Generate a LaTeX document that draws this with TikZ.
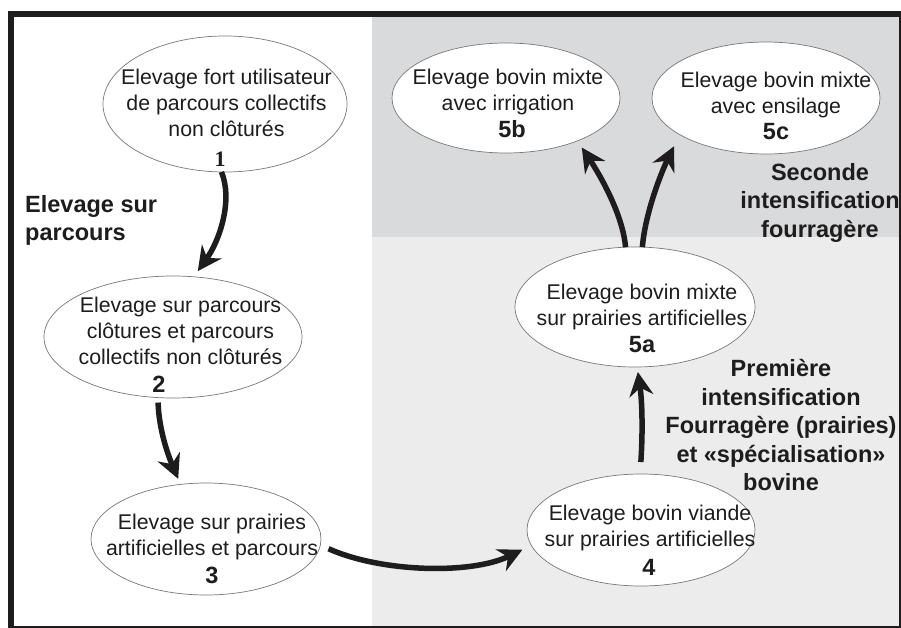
\documentclass[tikz,border=0pt]{standalone}
\usepackage{fontspec}
\setmainfont{Liberation Sans}
\newfontfamily\serifnum{Liberation Serif}
\usetikzlibrary{shapes.geometric,arrows.meta}

\definecolor{ink}{RGB}{30,28,29}
\definecolor{ellgray}{RGB}{120,120,120}
\definecolor{zonedark}{RGB}{217,218,220}
\definecolor{zonelight}{RGB}{236,236,236}

\tikzset{
  blob/.style={ellipse, draw=ellgray, line width=0.7pt, fill=white, inner sep=0pt, outer sep=0pt},
  body/.style={anchor=north, align=center, inner sep=0pt, text=ink,
    font=\fontsize{21.3}{26}\selectfont},
  num/.style={anchor=base, inner sep=0pt, text=ink,
    font=\fontsize{23.5}{28}\selectfont\bfseries},
  phase/.style={anchor=north, align=center, inner sep=0pt, text=ink,
    font=\fontsize{23.5}{28.5}\selectfont\bfseries},
  flow/.style={line width=5.5pt, draw=ink,
    -{Stealth[length=24pt, width=24pt, inset=8pt]}},
}

\begin{document}
\begin{tikzpicture}[x=1pt, y=-1pt]
  \useasboundingbox (0,0) rectangle (901,628);

  % frame and the two shaded zones
  \fill[ink] (8,11) rectangle (901,628);
  \fill[white] (14,17) rectangle (899,626);
  \fill[zonedark] (372,17) rectangle (899,237);
  \fill[zonelight] (372,237) rectangle (899,626);

  % stages
  \node[blob, minimum width=244, minimum height=136] (n1) at (225,104) {};
  \node[blob, minimum width=258, minimum height=122] (n2) at (173,337) {};
  \node[blob, minimum width=230, minimum height=112] (n3) at (206,539) {};
  \node[blob, minimum width=228, minimum height=112] (n4) at (641,530) {};
  \node[blob, minimum width=240, minimum height=120] (n5a) at (635,307) {};
  \node[blob, minimum width=228, minimum height=110] (n5b) at (506,98) {};
  \node[blob, minimum width=228, minimum height=112] (n5c) at (766,98) {};

  \node[body] (t1) at (226.5,68.7) {Elevage fort utilisateur\\de parcours collectifs\\non clôturés};
  \node[body] (t2) at (180.5,296.7) {Elevage sur parcours\\clôtures et parcours\\collectifs non clôturés};
  \node[body] (t3) at (212,513.7) {Elevage sur prairies\\artificielles et parcours};
  \node[body] (t4) at (650,504.7) {Elevage bovin viande\\sur prairies artificielles};
  \node[body] (t5a) at (642,283.7) {Elevage bovin mixte\\sur prairies artificielles};
  \node[body] (t5b) at (508,68.7) {Elevage bovin mixte\\avec irrigation};
  \node[body] (t5c) at (776,71.7) {Elevage bovin mixte\\avec ensilage};

  \node[num, font=\fontsize{22}{26}\selectfont\serifnum\bfseries] (k1) at (220,167) {1};
  \node[num] (k2) at (159,392) {2};
  \node[num] (k3) at (212,583) {3};
  \node[num] (k4) at (649,575) {4};
  \node[num] (k5a) at (642,352) {5a};
  \node[num] (k5b) at (512,138) {5b};
  \node[num] (k5c) at (776,140) {5c};

  % phase labels
  \node[phase, anchor=north west, align=left] (p1) at (25,195.2) {Elevage sur\\parcours};
  \node[phase] (p2) at (820,163) {Seconde\\intensification\\fourragère};
  \node[phase] (p3) at (781,359.4) {Première\\intensification\\Fourragère (prairies)\\et «spécialisation»\\bovine};

  % transitions
  \draw[flow, shorten >=7pt] (n1.267) .. controls (233,200) and (220,240) .. (n2.71);
  \draw[flow, shorten <=5pt, shorten >=6pt] (n2.256) .. controls (159,430) and (168,455) .. (n3.115);
  \draw[flow, shorten <=9pt, shorten >=10pt] (n3.357) .. controls (380,572) and (470,575) .. (n4.188);
  \draw[flow, shorten <=12pt, shorten >=5pt] (n4.91) .. controls (643,430) and (642,400) .. (n5a.272);
  \draw[flow, shorten >=8pt] (n5a.99.5) .. controls (623,215) and (600,175) .. (n5b.329);
  \draw[flow, shorten >=13pt] (n5a.83) .. controls (645,215) and (660,175) .. (n5c.203);
\end{tikzpicture}
\end{document}
